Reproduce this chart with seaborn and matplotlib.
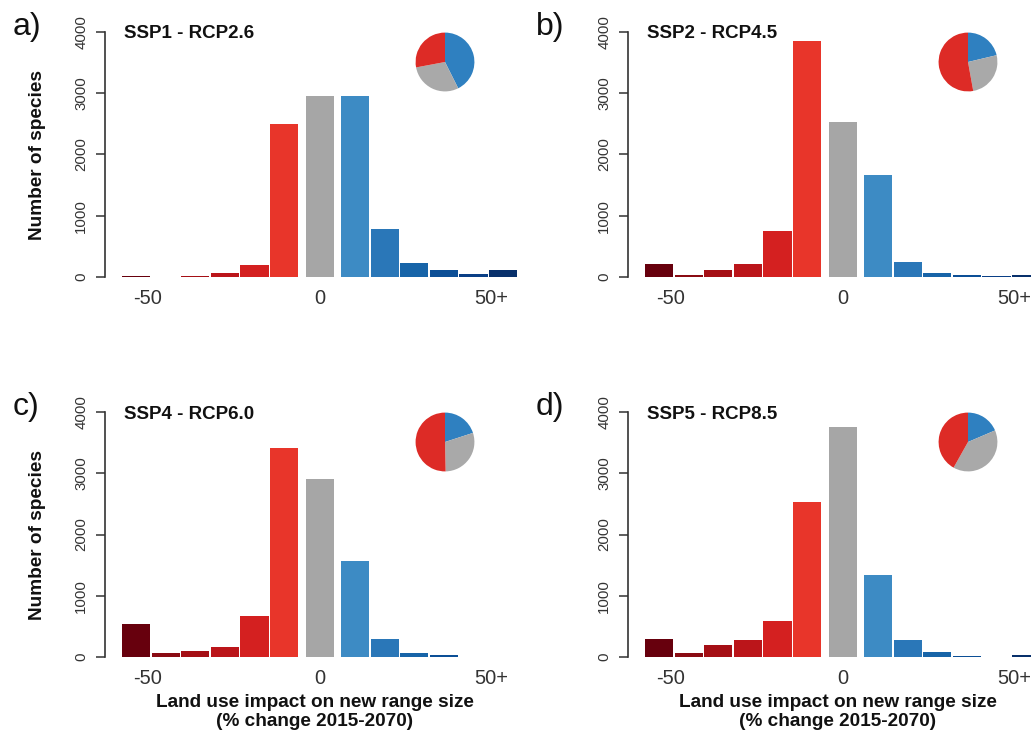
import numpy as np
import pandas as pd
import matplotlib
matplotlib.use("Agg")
import matplotlib.pyplot as plt
import seaborn as sns

# ---------------- data ----------------
bins = ["<-50", "-50:-40", "-40:-30", "-30:-20", "-20:-10", "-10:0", "0",
        "0:10", "10:20", "20:30", "30:40", "40:50", "50+"]
groups = ["loss"] * 6 + ["none"] + ["gain"] * 6

scenarios = ["SSP1 - RCP2.6", "SSP2 - RCP4.5", "SSP4 - RCP6.0", "SSP5 - RCP8.5"]
panel_letters = ["a)", "b)", "c)", "d)"]

counts_ssp1 = [20, 0, 20, 60, 200, 2500, 2950, 2950, 790, 230, 120, 55, 120]
counts_ssp2 = [215, 35, 115, 210, 745, 3850, 2530, 1670, 250, 70, 38, 16, 38]
counts_ssp4 = [535, 65, 105, 160, 670, 3405, 2910, 1575, 300, 60, 27, 0, 0]
counts_ssp5 = [300, 65, 195, 280, 595, 2535, 3755, 1340, 280, 80, 22, 0, 38]

xtick_labels = ["-50", "0", "50+"]
ytick_values = [0, 1000, 2000, 3000, 4000]
xlabel_text = "Land use impact on new range size\n(% change 2015-2070)"
ylabel_text = "Number of species"

# ---------------- style ----------------
bar_colors = ["#67000d", "#8a0b13", "#a50f15", "#bb151a", "#d42020", "#e8352a",
              "#a6a6a6",
              "#3d8bc4", "#2a77b8", "#1764a8", "#0c4f96", "#0a3f86", "#08306b"]
pie_colors = {"gain": "#2f80c0", "none": "#a9a9a9", "loss": "#dd2b26"}

sns.set_theme(style="ticks")
plt.rcParams["font.family"] = ["Liberation Sans", "DejaVu Sans"]

W, H = 1031, 738
fig = plt.figure(figsize=(W / 100, H / 100), dpi=100)


def fx(px):
    return px / W


def fy(py):
    return 1 - py / H


# layout (pixels)
pitch = 29.6
xlim = (-1.05, 13.1)
ax_w = (xlim[1] - xlim[0]) * pitch
px_per_unit = 245 / 4000.0
ax_top_off = 12  # px above 4000 tick
ax_bot_off = 6   # px below 0
ylim = (-ax_bot_off / px_per_unit, 4000 + ax_top_off / px_per_unit)
ax_h = (ylim[1] - ylim[0]) * px_per_unit

panel_origin = [(105, 32), (628, 32), (105, 412), (628, 412)]  # (spine x, y of 4000)
positions = np.r_[np.arange(6), 6.2, 7.4 + np.arange(6)]
xtick_pos = [0.4, 6.2, 12.0]

all_counts = [counts_ssp1, counts_ssp2, counts_ssp4, counts_ssp5]

for i, (counts, title, letter) in enumerate(zip(all_counts, scenarios, panel_letters)):
    sx, sy = panel_origin[i]
    top = sy - ax_top_off
    ax = fig.add_axes([fx(sx), fy(top + ax_h), ax_w / W, ax_h / H])

    df = pd.DataFrame({"pos": positions, "count": counts, "bin": bins, "group": groups})
    sns.barplot(data=df, x="pos", y="count", hue="bin",
                palette=dict(zip(bins, bar_colors)), hue_order=bins,
                native_scale=True, dodge=False, legend=False, saturation=1,
                width=0.95, linewidth=0, errorbar=None, ax=ax)

    ax.set_xlim(*xlim)
    ax.set_ylim(*ylim)
    for s in ["top", "right", "bottom"]:
        ax.spines[s].set_visible(False)
    ax.spines["left"].set_bounds(0, 4000)
    ax.spines["left"].set_color("#333333")
    ax.spines["left"].set_linewidth(1.2)

    ax.set_yticks(ytick_values)
    ax.set_yticklabels([str(v) for v in ytick_values], rotation=90, va="center",
                       fontsize=10.8, color="#333333")
    ax.tick_params(axis="y", direction="out", length=6.5, width=1.1,
                   color="#333333", pad=5.5)
    ax.set_xticks(xtick_pos)
    ax.set_xticklabels(xtick_labels, fontsize=14.4, color="#333333")
    ax.tick_params(axis="x", length=0, pad=4)
    ax.set_xlabel("")
    ax.set_ylabel("")

    # title and panel letter
    fig.text(fx(sx + 19), fy(sy + 2), title, fontsize=13.5, fontweight="bold",
             ha="left", va="center", color="#111111")
    fig.text(fx(sx - 92), fy(sy - 5), letter, fontsize=23, ha="left",
             va="center", color="#111111")

    # pie inset
    sums = df.groupby("group")["count"].sum()
    pie_order = ["gain", "none", "loss"]
    cx, cy, r = sx + 340, sy + 30, 30
    pax = fig.add_axes([fx(cx - r), fy(cy + r), 2 * r / W, 2 * r / H])
    pax.pie([sums[g] for g in pie_order], colors=[pie_colors[g] for g in pie_order],
            startangle=90, counterclock=False,
            wedgeprops=dict(linewidth=0))
    pax.set_xlim(-1.02, 1.02)
    pax.set_ylim(-1.02, 1.02)
    pax.set_aspect("equal")

    if i % 2 == 0:
        fig.text(fx(sx - 67), fy(sy + 123), ylabel_text, rotation=90,
                 fontsize=13.7, fontweight="bold", ha="center", va="center",
                 color="#111111")
    if i >= 2:
        fig.text(fx(sx + 210), fy(sy + 300), xlabel_text, fontsize=13.7,
                 fontweight="bold", ha="center", va="center", linespacing=1.15,
                 color="#111111")

fig.savefig("out.png", dpi=100)
